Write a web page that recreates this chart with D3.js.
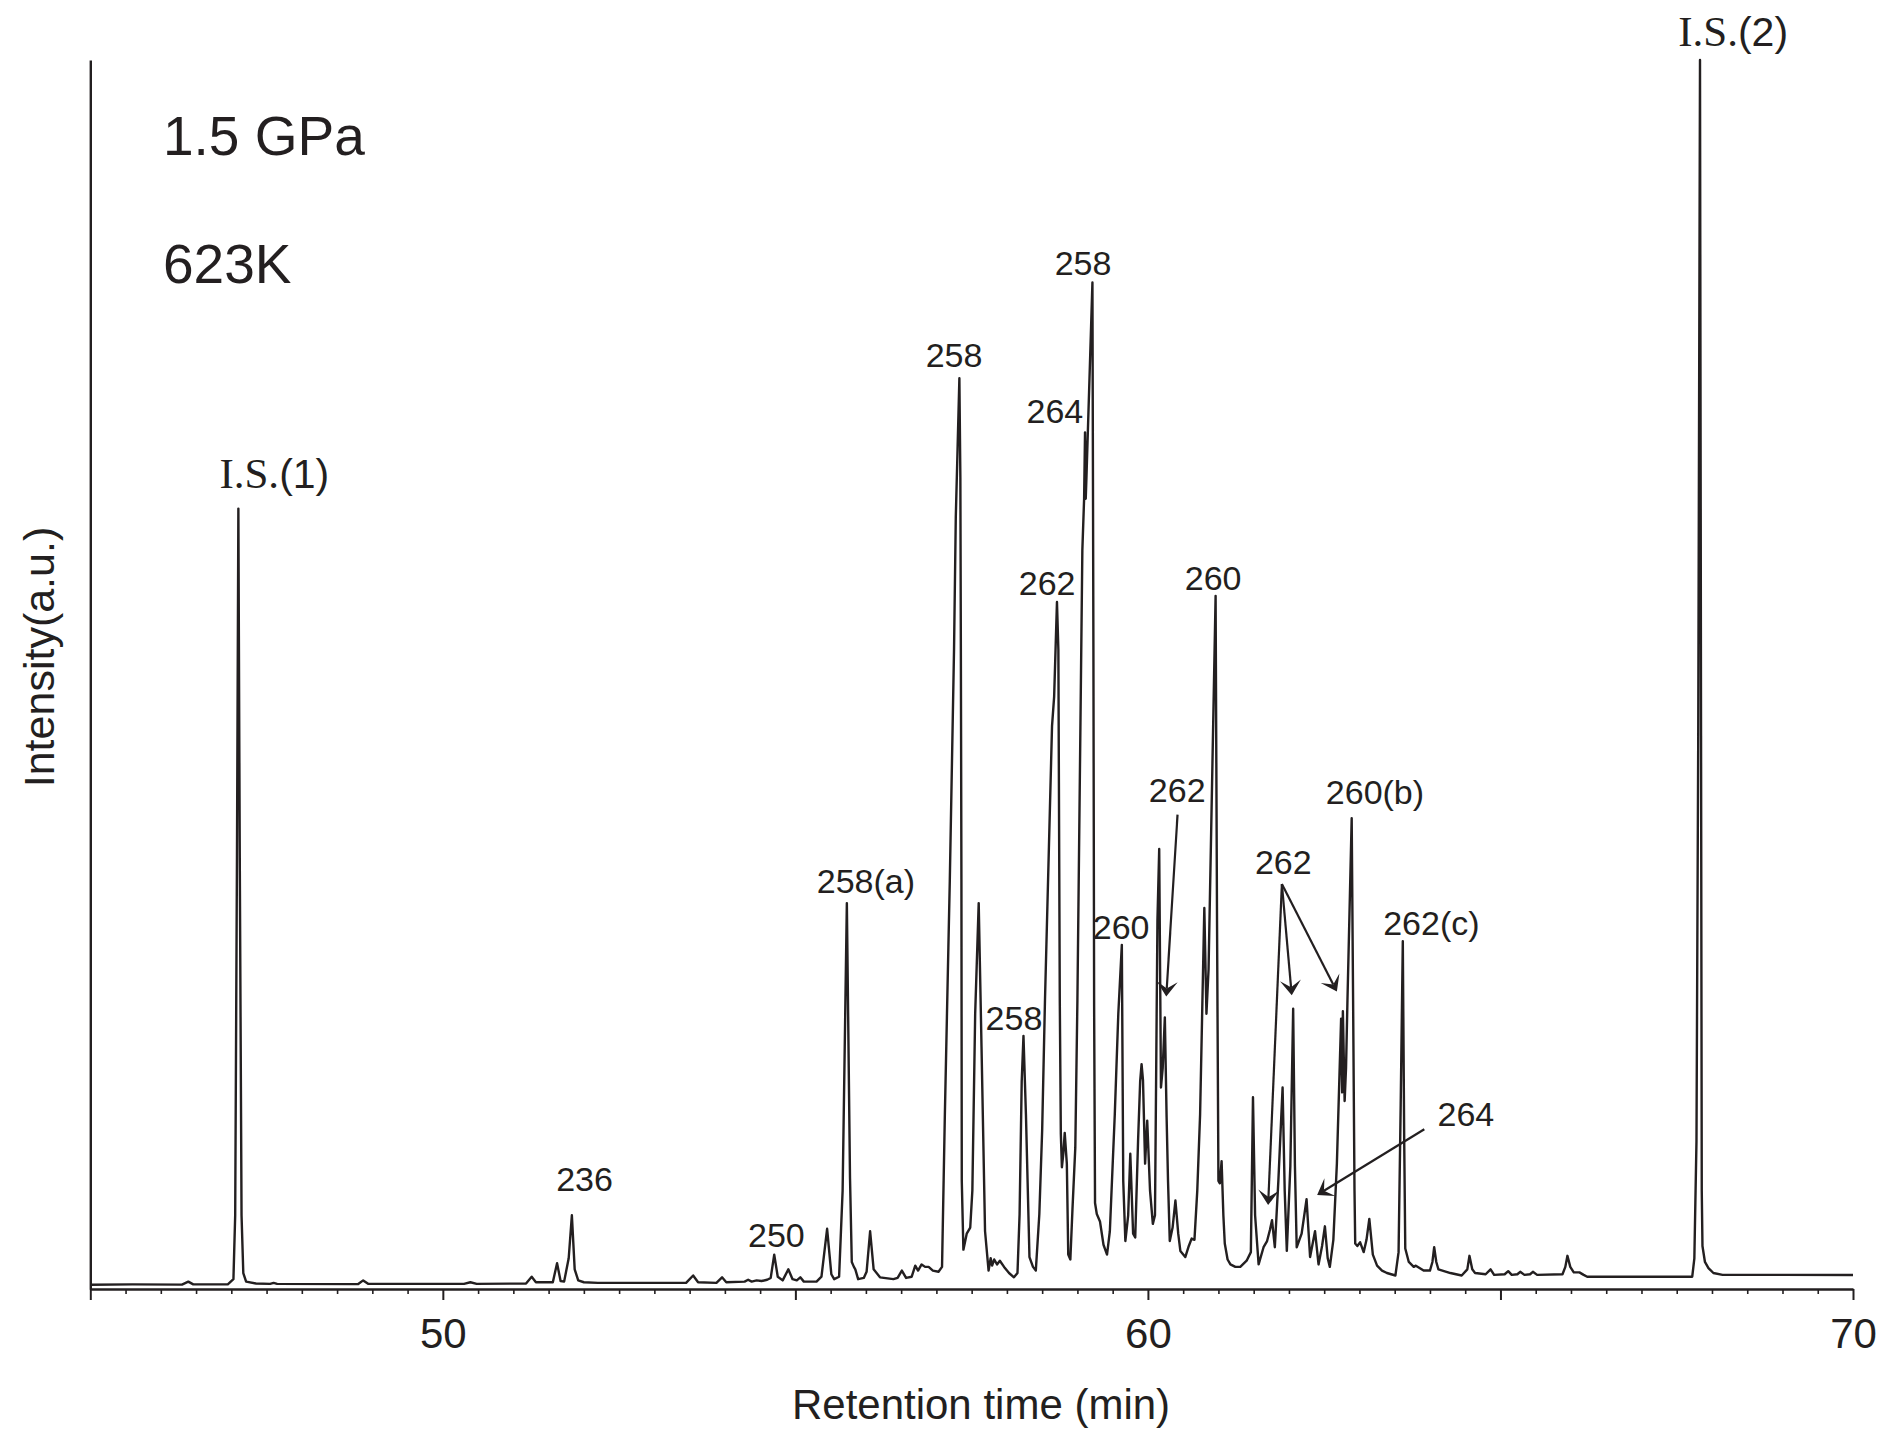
<!DOCTYPE html>
<html>
<head>
<meta charset="utf-8">
<title>Chromatogram 1.5 GPa, 623K</title>
<script src="https://cdn.jsdelivr.net/npm/d3@7"></script>
<style>
  html, body { margin: 0; padding: 0; background: #fff; }
  svg { display: block; }
  text { fill: #231f20; }
</style>
</head>
<body>
<svg id="chart" width="1887" height="1432"></svg>
<script>
// ---- Chromatogram trace: retention time (min) and detector signal (a.u., % of full scale)
const retentionTime = [
  45.00, 45.60, 46.30, 46.39, 46.46, 46.95, 47.03, 47.055, 47.08, 47.10, 47.12, 47.145, 47.17, 47.21,
  47.35, 47.55, 47.60, 47.65, 48.80, 48.87, 48.94, 50.30, 50.39, 50.48, 51.18, 51.26, 51.32, 51.56,
  51.62, 51.67, 51.72, 51.785, 51.83, 51.87, 51.92, 52.00, 52.20, 52.60, 53.45, 53.55, 53.62, 53.88,
  53.96, 54.02, 54.28, 54.33, 54.38, 54.45, 54.52, 54.60, 54.65, 54.70, 54.75, 54.82, 54.90, 54.96,
  55.02, 55.07, 55.12, 55.30, 55.37, 55.45, 55.51, 55.55, 55.62, 55.67, 55.73, 55.775, 55.80, 55.83,
  55.85, 55.89, 55.97, 56.01, 56.06, 56.11, 56.20, 56.39, 56.45, 56.51, 56.57, 56.65, 56.70, 56.74,
  56.79, 56.84, 56.89, 56.95, 57.03, 57.08, 57.12, 57.17, 57.19, 57.25, 57.275, 57.30, 57.326, 57.34,
  57.347, 57.355, 57.36, 57.383, 57.43, 57.48, 57.51, 57.55, 57.60, 57.64, 57.69, 57.74, 57.77, 57.79,
  57.82, 57.86, 57.90, 57.96, 58.03, 58.10, 58.15, 58.18, 58.21, 58.235, 58.27, 58.32, 58.37, 58.41,
  58.46, 58.50, 58.54, 58.64, 58.67, 58.71, 58.73, 58.75, 58.765, 58.78, 58.80, 58.82, 58.85, 58.87,
  58.90, 58.93, 58.97, 59.00, 59.07, 59.095, 59.108, 59.118, 59.128, 59.213, 59.227, 59.237, 59.25, 59.275,
  59.32, 59.37, 59.42, 59.46, 59.53, 59.58, 59.63, 59.65, 59.68, 59.72, 59.75, 59.79, 59.82, 59.86,
  59.89, 59.91, 59.93, 59.96, 59.99, 60.03, 60.07, 60.10, 60.135, 60.16, 60.185, 60.21, 60.24, 60.265,
  60.285, 60.31, 60.35, 60.39, 60.43, 60.46, 60.53, 60.58, 60.62, 60.66, 60.70, 60.74, 60.80, 60.83,
  60.86, 60.96, 60.98, 61.00, 61.02, 61.045, 61.07, 61.09, 61.13, 61.17, 61.24, 61.31, 61.40, 61.46,
  61.49, 61.52, 61.57, 61.64, 61.69, 61.73, 61.76, 61.80, 61.85, 61.91, 61.94, 61.97, 62.02, 62.06,
  62.085, 62.11, 62.18, 62.25, 62.30, 62.37, 62.42, 62.47, 62.51, 62.55, 62.58, 62.63, 62.68, 62.74,
  62.755, 62.765, 62.79, 62.81, 62.83, 62.89, 62.91, 62.93, 62.94, 62.97, 63.01, 63.06, 63.10, 63.14,
  63.19, 63.25, 63.32, 63.39, 63.51, 63.555, 63.585, 63.615, 63.635, 63.65, 63.70, 63.77, 63.80, 63.91,
  64.00, 64.035, 64.06, 64.09, 64.12, 64.29, 64.45, 64.53, 64.56, 64.60, 64.64, 64.79, 64.86, 64.91,
  65.06, 65.11, 65.16, 65.24, 65.28, 65.34, 65.42, 65.46, 65.52, 65.88, 65.92, 65.95, 65.99, 66.04,
  66.12, 66.18, 66.23, 66.60, 67.20, 67.72, 67.75, 67.78, 67.805, 67.83, 67.845, 67.855, 67.865, 67.90,
  67.95, 68.02, 68.15, 69.00, 70.00
];
const signal = [
  0.35, 0.38, 0.36, 0.6, 0.38, 0.38, 0.8, 6, 35, 63.5, 35, 6, 1.3, 0.6,
  0.45, 0.42, 0.5, 0.42, 0.4, 0.7, 0.42, 0.42, 0.55, 0.42, 0.45, 1.0, 0.55, 0.55,
  2.1, 0.65, 0.6, 2.5, 6.0, 1.6, 0.7, 0.55, 0.5, 0.5, 0.5, 1.1, 0.55, 0.5,
  0.95, 0.55, 0.6, 0.75, 0.6, 0.7, 0.65, 0.75, 0.9, 2.8, 1.0, 0.7, 1.6, 0.8,
  0.7, 0.95, 0.6, 0.6, 1.0, 4.9, 1.2, 0.8, 1.0, 8, 31.4, 9, 2.2, 1.8,
  1.6, 0.8, 0.9, 1.4, 4.7, 1.6, 0.95, 0.8, 0.9, 1.5, 0.9, 1.0, 1.9, 1.5,
  2.0, 1.8, 1.8, 1.5, 1.4, 1.8, 14.2, 27.8, 33.2, 52.0, 62.8, 68.3, 74.1, 66,
  52, 33.3, 8.8, 3.2, 4.5, 5.0, 8, 22.4, 31.4, 19.7, 4.7, 1.5, 2.5, 1.9,
  2.4, 2.0, 2.3, 1.8, 1.3, 0.95, 1.3, 6.1, 16.9, 20.6, 14.2, 2.6, 1.8, 1.5,
  6.1, 12.9, 23.5, 45.8, 48.2, 55.9, 52, 23.5, 12.6, 9.9, 11, 12.7, 10.2, 2.8,
  2.4, 6.5, 11.5, 23.5, 60.1, 64.3, 69.7, 64.3, 66, 81.9, 52, 23, 7, 6.1,
  5.5, 3.6, 2.8, 4.7, 14.2, 22.4, 28.0, 8.8, 3.9, 6, 11.0, 4.5, 4.2, 12,
  16.9, 18.3, 17.0, 10.2, 13.7, 8, 5.3, 6, 30, 35.8, 16.4, 18, 22.1, 14,
  8.8, 3.9, 5, 7.2, 4.5, 3.1, 2.6, 3.5, 4.1, 4.0, 8, 14.2, 31.0, 22.4,
  26, 56.4, 30, 8.8, 8.6, 10.4, 6, 3.7, 2.4, 2.0, 1.8, 1.8, 2.3, 3,
  15.6, 6, 2.0, 3.4, 3.9, 4.8, 5.6, 3.4, 8.8, 16.4, 8, 3.1, 10, 22.8,
  10, 3.4, 4.5, 7.3, 2.6, 4.7, 2.0, 3.5, 5.1, 2.5, 1.8, 4, 10.2, 22.0,
  16, 22.6, 15.3, 18, 23.5, 38.3, 23.5, 8, 3.7, 3.5, 3.8, 3.0, 4, 5.7,
  2.8, 1.9, 1.5, 1.3, 1.1, 3, 15, 28.3, 12, 3.3, 2.2, 1.8, 1.9, 1.5,
  1.5, 2.2, 3.4, 2.2, 1.6, 1.3, 1.1, 1.6, 2.7, 1.6, 1.3, 1.2, 1.6, 1.15,
  1.2, 1.45, 1.15, 1.2, 1.4, 1.15, 1.2, 1.4, 1.15, 1.2, 1.8, 2.7, 1.8, 1.35,
  1.35, 1.15, 1.0, 1.0, 1.0, 1.0, 2.5, 12, 45, 100, 45, 8, 3.5, 2.2,
  1.7, 1.3, 1.15, 1.15, 1.14
];

// ---- Axis ticks
const majorTicks = [45, 50, 55, 60, 65, 70];
const labeledTicks = [50, 60, 70];
const minorTicks = d3.range(45.5, 70, 0.5).filter(t => t % 5 !== 0);

// ---- Peak annotations (anchor: retention time, signal level of the label baseline)
const peakLabelText = ["I.S.(1)", "236", "250", "258(a)", "258", "258", "264", "262", "260",
                       "262", "260(b)", "262", "262(c)", "260", "258", "264", "I.S.(2)"];
const peakLabelTime = [47.61, 52.01, 54.73, 56.00, 57.25, 59.08, 58.68, 58.57, 60.925,
                       60.415, 63.22, 61.92, 64.02, 59.62, 58.10, 64.51, 68.30];
const peakLabelLevel = [65.2, 7.97, 3.42, 32.2, 75.0, 82.5, 70.5, 56.5, 56.9,
                        39.6, 39.5, 33.8, 28.8, 28.5, 21.1, 13.3, 101.1];

// ---- Arrows: [time, level] of tail and head
const arrowTail = [[60.42, 38.6], [61.90, 32.95], [61.90, 32.95], [61.90, 32.95], [63.92, 13.0]];
const arrowHead = [[60.26, 23.8], [61.705, 6.83], [62.04, 23.9], [62.68, 24.2], [62.40, 7.65]];

// ---- Condition labels
const conditions = ["1.5 GPa", "623K"];

// ===================== drawing =====================
const ink = "#231f20";
const svg = d3.select("#chart");

const x = d3.scaleLinear().domain([45, 70]).range([90.3, 1853]);
const y = d3.scaleLinear().domain([0, 100]).range([1289, 60]);

// minor ticks on the time axis
svg.append("g")
  .attr("transform", `translate(0,${y(0)})`)
  .call(d3.axisBottom(x).tickValues(minorTicks).tickSize(5).tickFormat(""))
  .call(g => g.select(".domain").remove())
  .call(g => g.selectAll("line").attr("stroke", ink).attr("stroke-width", 1.6));

// major ticks + labels
const xAxis = svg.append("g")
  .attr("transform", `translate(0,${y(0)})`)
  .call(d3.axisBottom(x).tickValues(majorTicks).tickSize(11).tickSizeOuter(0)
    .tickFormat(d => labeledTicks.includes(d) ? String(d) : ""));
xAxis.select(".domain").attr("stroke", ink).attr("stroke-width", 2.6);
xAxis.selectAll(".tick line").attr("stroke", ink).attr("stroke-width", 2);
xAxis.selectAll(".tick text")
  .attr("y", 59).attr("dy", 0)
  .attr("font-family", "'Liberation Sans', Arial, sans-serif")
  .attr("font-size", 42)
  .attr("fill", ink);

// intensity axis: a plain line
const yAxis = svg.append("g")
  .attr("transform", `translate(${x(45)},0)`)
  .call(d3.axisLeft(y).tickValues([]).tickSizeOuter(0));
yAxis.select(".domain").attr("stroke", ink).attr("stroke-width", 2.4);

// axis titles
svg.append("text")
  .attr("x", 981).attr("y", 1419)
  .attr("text-anchor", "middle")
  .attr("font-family", "'Liberation Sans', Arial, sans-serif")
  .attr("font-size", 42)
  .text("Retention time (min)");

svg.append("text")
  .attr("transform", "translate(54,657) rotate(-90)")
  .attr("text-anchor", "middle")
  .attr("font-family", "'Liberation Sans', Arial, sans-serif")
  .attr("font-size", 43)
  .text("Intensity(a.u.)");

// condition text
svg.selectAll("text.cond")
  .data(conditions)
  .join("text")
  .attr("class", "cond")
  .attr("x", 163)
  .attr("y", (d, i) => i === 0 ? 155 : 283)
  .attr("font-family", "'Liberation Sans', Arial, sans-serif")
  .attr("font-size", 55)
  .text(d => d);

// chromatogram trace
const trace = retentionTime.map((t, i) => [t, signal[i]]);
svg.append("path")
  .datum(trace)
  .attr("fill", "none")
  .attr("stroke", ink)
  .attr("stroke-width", 2.4)
  .attr("stroke-linejoin", "round")
  .attr("d", d3.line().x(d => x(d[0])).y(d => y(d[1])));

// peak labels
const labels = svg.append("g");
peakLabelText.forEach((txt, i) => {
  const t = labels.append("text")
    .attr("x", x(peakLabelTime[i]))
    .attr("y", y(peakLabelLevel[i]))
    .attr("text-anchor", "middle")
    .attr("font-family", "'Liberation Sans', Arial, sans-serif")
    .attr("font-size", 34);
  if (txt.startsWith("I.S.")) {
    t.append("tspan")
      .attr("font-family", "'Liberation Serif', 'Times New Roman', serif")
      .attr("font-size", 43)
      .text("I.S.");
    t.append("tspan").attr("font-size", 41).text(txt.slice(4));
  } else {
    t.text(txt);
  }
});

// arrows with barbed heads
const arrows = svg.append("g");
arrowTail.forEach((tail, i) => {
  const x0 = x(tail[0]), y0 = y(tail[1]);
  const x1 = x(arrowHead[i][0]), y1 = y(arrowHead[i][1]);
  const ang = Math.atan2(y1 - y0, x1 - x0);
  const back = 8;
  arrows.append("line")
    .attr("x1", x0).attr("y1", y0)
    .attr("x2", x1 - back * Math.cos(ang)).attr("y2", y1 - back * Math.sin(ang))
    .attr("stroke", ink).attr("stroke-width", 2.2);
  arrows.append("path")
    .attr("d", "M0,0 L-15,-10.5 L-8,0 L-15,10.5 Z")
    .attr("fill", ink)
    .attr("transform", `translate(${x1},${y1}) rotate(${ang * 180 / Math.PI})`);
});
</script>
</body>
</html>
